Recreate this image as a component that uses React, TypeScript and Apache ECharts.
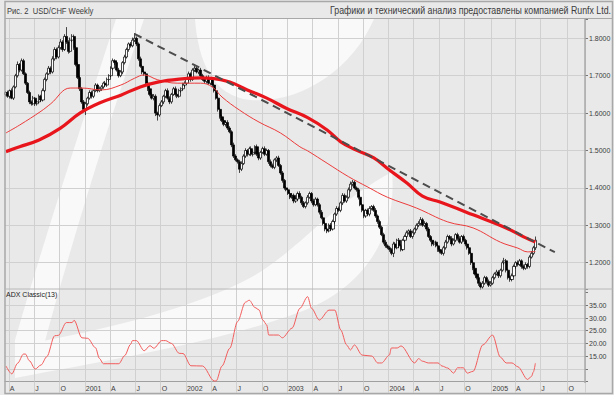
import React, { useEffect, useRef } from 'react';
import * as echarts from 'echarts';

// ---------- axis categories (weekly, Fridays) ----------
const START = Date.UTC(2000, 2, 24);
const WEEKS = 298;
const categories: string[] = [];
for (let i = 0; i < WEEKS; i++) {
  categories.push(new Date(START + i * 7 * 86400000).toISOString().slice(0, 10));
}
const quarterLabel = (s: string): string => {
  const m = +s.slice(5, 7);
  const d = +s.slice(8, 10);
  if (d > 7) return '';
  if (m === 1) return s.slice(0, 4);
  if (m === 4) return 'A';
  if (m === 7) return 'J';
  if (m === 10) return 'O';
  return '';
};
const isQuarter = (_i: number, v: string) => quarterLabel(v) !== '';

// ---------- weekly closes ----------
const firstOpen = 1.650;
const close2000 = [
  1.655, 1.645, 1.660, 1.640, 1.670, 1.700, 1.730, 1.715, 1.740, 1.705,
  1.680, 1.655, 1.630, 1.625, 1.640, 1.625, 1.630, 1.645, 1.635, 1.660,
  1.690, 1.705, 1.720, 1.710, 1.745, 1.770, 1.750, 1.775, 1.790, 1.770,
  1.805, 1.790, 1.765, 1.795, 1.805, 1.775, 1.730, 1.695, 1.665, 1.630,
  1.610,
];
const close2001 = [
  1.625, 1.640, 1.655, 1.645, 1.660, 1.675, 1.660, 1.665, 1.670, 1.680,
  1.675, 1.690, 1.700, 1.720, 1.740, 1.735, 1.715, 1.700, 1.710, 1.735,
  1.750, 1.770, 1.785, 1.780, 1.795, 1.800, 1.785, 1.745, 1.725, 1.710,
  1.705, 1.680, 1.665, 1.650, 1.640, 1.645, 1.600, 1.595, 1.620, 1.630,
  1.645, 1.660, 1.640, 1.630, 1.650, 1.665, 1.650, 1.645, 1.660, 1.665,
  1.675, 1.680,
];
const close2002 = [
  1.690, 1.705, 1.690, 1.715, 1.720, 1.710, 1.715, 1.700, 1.690, 1.685,
  1.695, 1.680, 1.690, 1.675, 1.660, 1.640, 1.610, 1.590, 1.580, 1.570,
  1.575, 1.560, 1.550, 1.515, 1.485, 1.475, 1.470, 1.450, 1.465, 1.485,
  1.500, 1.490, 1.505, 1.490, 1.495, 1.510, 1.490, 1.480, 1.495, 1.505,
  1.490, 1.500, 1.470, 1.460, 1.455, 1.475, 1.480, 1.460, 1.440, 1.420,
  1.400, 1.395,
];
const close2003 = [
  1.385, 1.375, 1.380, 1.365, 1.370, 1.385, 1.375, 1.360, 1.350, 1.360,
  1.375, 1.385, 1.365, 1.355, 1.370, 1.355, 1.335, 1.320, 1.305, 1.290,
  1.285, 1.300, 1.290, 1.310, 1.330, 1.345, 1.340, 1.360, 1.380, 1.365,
  1.375, 1.395, 1.410, 1.415, 1.400, 1.395, 1.375, 1.355, 1.340, 1.325,
  1.340, 1.330, 1.345, 1.350, 1.340, 1.325, 1.310, 1.295, 1.275, 1.255,
  1.245, 1.240,
];
const close2004 = [
  1.235, 1.225, 1.250, 1.240, 1.260, 1.245, 1.235, 1.260, 1.270, 1.280,
  1.285, 1.270, 1.280, 1.290, 1.300, 1.305, 1.315, 1.300, 1.305, 1.290,
  1.270, 1.260, 1.250, 1.255, 1.245, 1.235, 1.230, 1.225, 1.240, 1.255,
  1.270, 1.265, 1.250, 1.260, 1.275, 1.265, 1.255, 1.270, 1.260, 1.250,
  1.240, 1.225, 1.200, 1.185, 1.170, 1.160, 1.145, 1.135, 1.145, 1.160,
  1.150, 1.140, 1.145,
];
const close2005 = [
  1.160, 1.170, 1.175, 1.165, 1.180, 1.200, 1.205, 1.180, 1.160, 1.155,
  1.165, 1.190, 1.200, 1.195, 1.205, 1.190, 1.185, 1.195, 1.190, 1.215,
  1.225, 1.240, 1.260,
];

// wick lengths above / below the candle body, in thousandths
const upWick = [
  4, 5, 3, 6, 4, 5, 8, 4, 6, 5, 4, 3, 5, 4, 6, 3, 4, 5, 4, 6,
  5, 4, 6, 5, 7, 6, 5, 6, 8, 5, 6, 25, 5, 7, 6, 5, 4, 6, 5, 4, 5,
  5, 4, 6, 5, 3, 5, 4, 6, 5, 4, 6, 5, 4, 5, 6, 4, 5, 6, 5, 4,
  6, 5, 4, 5, 7, 14, 5, 4, 6, 5, 4, 5, 6, 4, 5, 6, 5, 4, 6, 5,
  4, 5, 6, 5, 4, 5, 6, 4, 5, 4, 6, 5,
  5, 6, 4, 5, 6, 5, 4, 6, 5, 4, 5, 6, 4, 5, 4, 6, 5, 4, 6, 5,
  4, 6, 5, 4, 6, 5, 4, 5, 6, 5, 6, 4, 5, 6, 5, 4, 6, 5, 4, 5,
  6, 5, 4, 6, 5, 4, 5, 6, 4, 5, 4, 5,
  5, 4, 6, 5, 4, 5, 6, 4, 5, 4, 6, 5, 4, 6, 5, 4, 5, 6, 4, 5,
  4, 5, 6, 5, 4, 6, 5, 4, 6, 5, 5, 6, 7, 6, 5, 4, 5, 6, 4, 5,
  4, 5, 6, 4, 5, 6, 4, 5, 4, 5, 6, 4,
  5, 4, 6, 5, 4, 6, 5, 4, 5, 6, 4, 5, 6, 4, 5, 6, 7, 5, 6, 4,
  5, 4, 6, 5, 4, 5, 6, 4, 5, 6, 5, 4, 6, 5, 4, 5, 6, 4, 5, 4,
  6, 5, 4, 5, 6, 4, 5, 4, 6, 5, 4, 5, 6,
  5, 4, 6, 5, 4, 6, 8, 5, 4, 5, 6, 5, 4, 6, 5, 4, 5, 6, 4, 5,
  6, 5, 10,
];
const downWick = [
  5, 4, 6, 3, 5, 4, 5, 6, 4, 3, 5, 4, 6, 5, 4, 6, 5, 3, 5, 4,
  4, 5, 3, 6, 4, 5, 6, 4, 5, 6, 4, 5, 6, 4, 5, 6, 5, 4, 6, 5, 4,
  15, 5, 4, 6, 5, 4, 5, 4, 6, 5, 4, 5, 6, 4, 5, 6, 4, 5, 4, 6,
  5, 4, 6, 5, 4, 5, 6, 5, 4, 6, 5, 4, 6, 5, 4, 6, 8, 15, 5, 4,
  6, 5, 4, 6, 5, 4, 6, 5, 4, 5, 4, 6,
  4, 5, 6, 4, 5, 4, 6, 5, 4, 5, 6, 4, 5, 6, 5, 4, 6, 5, 4, 5,
  6, 5, 4, 6, 5, 4, 5, 10, 5, 4, 5, 6, 4, 5, 6, 4, 5, 6, 5, 4,
  5, 4, 6, 5, 4, 5, 6, 4, 5, 6, 5, 4,
  4, 5, 4, 6, 5, 4, 5, 6, 4, 5, 5, 4, 6, 5, 4, 5, 6, 4, 5, 6,
  6, 4, 5, 4, 6, 5, 4, 5, 6, 4, 5, 4, 5, 6, 4, 5, 6, 4, 5, 6,
  5, 4, 6, 5, 4, 5, 6, 5, 4, 6, 5, 4,
  6, 5, 10, 5, 4, 6, 5, 4, 5, 6, 5, 4, 6, 5, 4, 5, 6, 4, 5, 6,
  4, 5, 6, 5, 4, 6, 5, 4, 6, 5, 4, 5, 6, 4, 5, 6, 4, 5, 4, 6,
  5, 4, 6, 5, 4, 5, 7, 7, 5, 4, 6, 5, 4,
  4, 5, 4, 6, 5, 4, 5, 6, 5, 6, 5, 4, 6, 5, 4, 6, 5, 4, 6, 5,
  4, 5, 6,
];

// moving averages and ADX: [week index, value]
const maSlow: [number, number][] = [
  [0, 1.497], [7, 1.510], [17, 1.528], [28, 1.560], [38, 1.600], [48, 1.627],
  [59, 1.648], [69, 1.670], [78, 1.683], [89, 1.691], [100, 1.694], [106, 1.693],
  [115, 1.683], [124, 1.662], [134, 1.640], [144, 1.613], [155, 1.588], [165, 1.555],
  [172, 1.523], [180, 1.501], [189, 1.480], [197, 1.448], [206, 1.413], [214, 1.378],
  [223, 1.362], [240, 1.328], [257, 1.293], [266, 1.269], [272, 1.255],
];
const maFast: [number, number][] = [
  [0, 1.547], [7, 1.568], [18, 1.605], [23, 1.625], [33, 1.667], [39, 1.667],
  [49, 1.662], [59, 1.675], [66, 1.693], [71, 1.702], [78, 1.689], [88, 1.680],
  [100, 1.680], [106, 1.670], [111, 1.643], [120, 1.608], [130, 1.576], [141, 1.547],
  [151, 1.510], [155, 1.499], [165, 1.466], [176, 1.430], [186, 1.402], [196, 1.375],
  [211, 1.346], [227, 1.309], [240, 1.293], [254, 1.255], [263, 1.239], [268, 1.229],
  [272, 1.230],
];
const trendLine: [number, number][] = [[66, 1.812], [282, 1.228]];
const adx: [number, number][] = [
  [0, 11.1], [3, 8.0], [6, 12.2], [9, 15.8], [10, 15.8], [12, 13.2], [15, 9.9],
  [18, 11.5], [21, 14.8], [25, 23.0], [27, 23.2], [31, 28.2], [34, 28.2], [35, 29.1],
  [39, 22.2], [42, 22.0], [46, 18.3], [48, 14.1], [50, 12.0], [58, 12.0], [61, 15.2],
  [64, 19.6], [65, 21.1], [67, 21.1], [71, 17.1], [74, 19.1], [76, 18.1], [80, 21.1],
  [82, 21.1], [85, 20.0], [89, 16.1], [91, 16.0], [95, 11.2], [101, 11.1], [107, 5.2],
  [108, 5.2], [111, 11.1], [115, 18.1], [119, 28.6], [123, 36.2], [125, 37.0], [128, 34.1],
  [130, 33.2], [132, 29.2], [134, 27.2], [135, 23.3], [140, 23.3], [142, 22.2], [147, 26.0],
  [151, 33.8], [155, 38.4], [157, 33.8], [161, 29.2], [166, 33.1], [169, 33.1], [172, 25.3],
  [175, 19.4], [177, 17.4], [179, 19.4], [183, 15.4], [188, 15.0], [191, 12.3], [193, 12.3],
  [197, 15.4], [198, 18.2], [201, 18.2], [203, 19.0], [210, 12.3], [212, 14.0], [214, 13.0],
  [217, 12.3], [222, 12.3], [224, 11.1], [227, 10.3], [230, 8.3], [232, 10.4], [235, 10.4],
  [237, 8.3], [240, 9.0], [245, 19.4], [250, 23.3], [254, 14.6], [257, 12.3], [260, 12.3],
  [263, 10.8], [268, 5.8], [270, 7.0], [271, 8.8], [272, 12.2],
];

const priceTicks = [1.2, 1.3, 1.4, 1.5, 1.6, 1.7, 1.8];
const adxTickLabels = [15, 20, 25, 30, 35];

// ---------- background watermark shapes ----------
const WM_TOP = 'M 195 19 L 374 19 C 352 70 300 104 250 100 C 212 96 198 60 195 19 Z';
const WM_LOW =
  'M 392 172 C 398 240 360 290 300 312 C 220 342 110 360 15 378 L 15 346 C 110 330 200 305 250 278 C 300 250 330 205 392 172 Z';
const WM_STEM = 'M 116 19 L 144 19 C 110 120 75 230 42 352 L 15 352 L 15 340 C 50 220 85 115 116 19 Z';
let registered = false;
function registerShapes() {
  if (registered) return;
  registered = true;
  echarts.graphic.registerShape('wmTop', echarts.graphic.extendPath(WM_TOP, {}));
  echarts.graphic.registerShape('wmLow', echarts.graphic.extendPath(WM_LOW, {}));
  echarts.graphic.registerShape('wmStem', echarts.graphic.extendPath(WM_STEM, {}));
}

const FONT = '"Liberation Sans", Arial, sans-serif';
const GRID = '#d0d0d0';
const T = 'rgba(0,0,0,0)';
const TXT = '#3c3c3c';
const WM = '#f9f9f9';

export default function App() {
  const ref = useRef<HTMLDivElement>(null);
  useEffect(() => {
    if (!ref.current) return;
    registerShapes();
    const chart = echarts.init(ref.current, undefined, { renderer: 'svg' });

    const closes = [...close2000, ...close2001, ...close2002, ...close2003, ...close2004, ...close2005];
    const candles = closes.map((c, i) => {
      const o = i === 0 ? firstOpen : closes[i - 1];
      const hi = Math.max(o, c) + upWick[i] / 1000;
      const lo = Math.min(o, c) - downWick[i] / 1000;
      return [o, c, lo, hi];
    });

    const priceMin = 1.2 - (289 - 262.7) / 374;
    const priceMax = 1.8 + (38.3 - 19) / 374;
    const adxMax = 5 + (381.5 - 289) / 2.54;

    const option: any = {
      animation: false,
      backgroundColor: '#e9e9e9',
      graphic: [
        { type: 'wmTop', x: 0, y: 0, z: -5, silent: true, style: { fill: WM } },
        { type: 'wmLow', x: 0, y: 0, z: -5, silent: true, style: { fill: WM } },
        { type: 'wmStem', x: 0, y: 0, z: -5, silent: true, style: { fill: WM } },
        // frame
        { type: 'rect', z: 20, silent: true, shape: { x: 5, y: 1.5, width: 607.5, height: 392 }, style: { fill: 'none', stroke: '#a8a8a8', lineWidth: 1.5 } },
        { type: 'line', z: 20, silent: true, shape: { x1: 5, y1: 18.5, x2: 612.5, y2: 18.5 }, style: { stroke: '#a8a8a8', lineWidth: 1 } },
        { type: 'line', z: 20, silent: true, shape: { x1: 5, y1: 289, x2: 612.5, y2: 289 }, style: { stroke: '#b8b8b8', lineWidth: 1 } },
        { type: 'line', z: 20, silent: true, shape: { x1: 585, y1: 18.5, x2: 585, y2: 383 }, style: { stroke: '#a8a8a8', lineWidth: 1.5 } },
        {
          type: 'text', z: 20, silent: true, x: 7, y: 11, scaleX: 0.8,
          style: { text: 'Рис. 2  USD/CHF Weekly', font: `9.5px ${FONT}`, fill: TXT, textAlign: 'left', textVerticalAlign: 'middle' },
        },
        {
          type: 'text', z: 20, silent: true, x: 611, y: 10.5, scaleX: 0.8,
          style: { text: 'Графики и технический анализ предоставлены компанией Runfx Ltd.', font: `11px ${FONT}`, fill: TXT, textAlign: 'right', textVerticalAlign: 'middle' },
        },
        {
          type: 'text', z: 20, silent: true, x: 6, y: 294,
          style: { text: 'ADX Classic(13)', font: `7px ${FONT}`, fill: '#222', textAlign: 'left', textVerticalAlign: 'middle' },
        },
      ],
      grid: [
        { left: 5, right: 29, top: 19, height: 270 },
        { left: 5, right: 29, top: 289, height: 92.5 },
      ],
      xAxis: [
        {
          type: 'category', gridIndex: 0, data: categories, boundaryGap: true,
          axisLine: { show: false }, axisTick: { show: false }, axisLabel: { show: false },
          splitLine: { show: true, interval: isQuarter, lineStyle: { color: GRID, width: 1 } },
        },
        {
          type: 'category', gridIndex: 1, data: categories, boundaryGap: true,
          axisLine: { show: true, lineStyle: { color: '#a0a0a0', width: 1 } },
          axisTick: { show: true, interval: isQuarter, length: 11, lineStyle: { color: GRID } },
          axisLabel: {
            interval: isQuarter, formatter: (v: string) => quarterLabel(v), align: 'left',
            margin: 3, fontSize: 7, fontFamily: FONT, color: TXT,
          },
          splitLine: { show: true, interval: isQuarter, lineStyle: { color: GRID, width: 1 } },
        },
      ],
      yAxis: [
        {
          type: 'value', gridIndex: 0, position: 'right', min: priceMin, max: priceMax, splitNumber: 7,
          axisLine: { show: false },
          axisTick: { show: true, length: 3, lineStyle: { color: '#777' } },
          axisLabel: {
            margin: 4, fontSize: 7, fontFamily: FONT, color: TXT,
            formatter: (v: number) => (priceTicks.some((t) => Math.abs(t - v) < 1e-6) ? v.toFixed(4) : ''),
          },
          splitLine: { show: true, lineStyle: { color: [T, GRID, GRID, GRID, GRID, GRID, GRID, GRID, T] } },
        },
        {
          type: 'value', gridIndex: 1, position: 'right', min: 5, max: adxMax, interval: 5,
          axisLine: { show: false },
          axisTick: { show: true, length: 3, lineStyle: { color: '#777' } },
          axisLabel: {
            margin: 4, fontSize: 7, fontFamily: FONT, color: TXT,
            formatter: (v: number) => (adxTickLabels.some((t) => Math.abs(t - v) < 1e-6) ? v.toFixed(2) : ''),
          },
          splitLine: { show: true, lineStyle: { color: [T, GRID, GRID, GRID, GRID, GRID, GRID, T, T] } },
        },
      ],
      series: [
        {
          type: 'candlestick', xAxisIndex: 0, yAxisIndex: 0, data: candles, barWidth: 2.6,
          itemStyle: { color: '#ffffff', color0: '#000000', borderColor: '#000000', borderColor0: '#000000', borderWidth: 0.7 },
          z: 3,
        },
        {
          type: 'line', xAxisIndex: 0, yAxisIndex: 0, data: maFast, smooth: 0.4, showSymbol: false,
          lineStyle: { color: '#ec3b3b', width: 1 }, z: 4,
        },
        {
          type: 'line', xAxisIndex: 0, yAxisIndex: 0, data: maSlow, smooth: 0.4, showSymbol: false,
          lineStyle: { color: '#e8161c', width: 3.2 }, z: 5,
        },
        {
          type: 'line', xAxisIndex: 0, yAxisIndex: 0, data: trendLine, showSymbol: false,
          lineStyle: { color: '#4d4d4d', width: 2, type: [8, 5] }, z: 6,
        },
        {
          type: 'line', xAxisIndex: 1, yAxisIndex: 1, data: adx, smooth: 0.3, smoothMonotone: 'x', showSymbol: false,
          lineStyle: { color: '#f25c5c', width: 1 }, z: 4,
        },
      ],
    };
    chart.setOption(option);
    return () => chart.dispose();
  }, []);
  return (
    <div style={{ position: 'fixed', left: 0, top: 0, width: 614, height: 395, background: '#f0f0f0' }}>
      <div ref={ref} style={{ width: 614, height: 395 }} />
    </div>
  );
}
